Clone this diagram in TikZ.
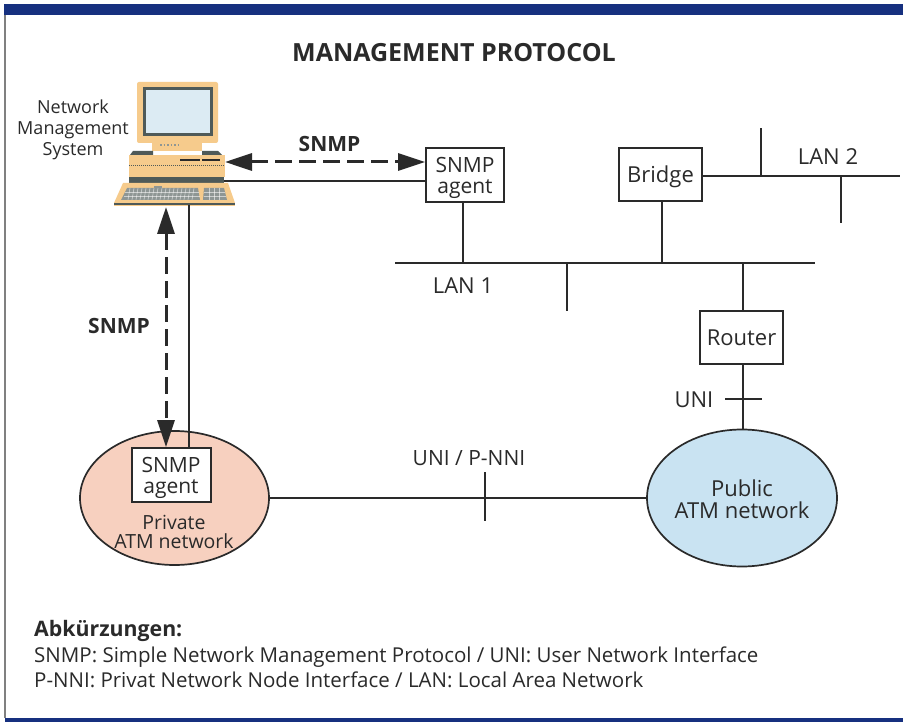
\documentclass[tikz,border=0pt]{standalone}
\usepackage{fontspec}
\setmainfont{Open Sans}
\usetikzlibrary{arrows.meta,shapes.geometric}
\definecolor{barblue}{HTML}{16307F}
\definecolor{txt}{HTML}{2A2A2A}
\definecolor{pcbody}{HTML}{F6CB8C}
\definecolor{pcdark}{HTML}{4F5A58}
\definecolor{pckey}{HTML}{8E9694}
\definecolor{scr}{HTML}{DCEBF3}
\definecolor{priv}{HTML}{F7D0BF}
\definecolor{publ}{HTML}{C9E3F2}
\tikzset{
  x=1pt,y=-1pt,
  lbl/.style={font=\fontsize{22}{22}\selectfont,text=txt,align=center,inner sep=0pt},
  boldlbl/.style={lbl,font=\fontsize{21}{23}\selectfont\bfseries},
  smallbox/.style={draw=txt,line width=1.7pt,fill=white,inner sep=0pt,align=center,font=\fontsize{22}{22}\selectfont,text=txt},
  boxtext/.style={lbl,font=\fontsize{21}{21}\selectfont},
  wire/.style={draw=txt,line width=1.6pt},
  dasharrow/.style={draw=txt,line width=3pt,dash pattern=on 17pt off 7pt,
     {Triangle[length=27pt,width=17pt]}-{Triangle[length=27pt,width=17pt]}},
  cloud/.style={ellipse,draw=txt,line width=1.7pt,inner sep=0pt},
}
\begin{document}
\begin{tikzpicture}
\useasboundingbox (0,0) rectangle (903,722);
\fill[white] (0,0) rectangle (903,722);
\draw[gray,line width=1.3pt] (5,15) -- (5,718);
\fill[barblue] (4,4) rectangle (903,15);
\fill[barblue] (5,718) rectangle (903,722);

\node[lbl,font=\fontsize{25}{30}\selectfont\bfseries] (title) at (454,53) {MANAGEMENT PROTOCOL};

% computer
\fill[pcbody,rounded corners=2pt] (137,82) rectangle (218,143);
\fill[pcdark] (143,87) rectangle (213,136);
\fill[scr] (146,90) rectangle (210,133);
\fill[pcbody] (152,142) rectangle (202,151);
\fill[pcdark] (130,155) -- (133,151) -- (153,151) -- (153,155) -- cycle;
\fill[pcdark] (202,151) -- (218,151) -- (222,155) -- (202,155) -- cycle;
\draw[pckey,line width=1.5pt,dotted] (160,145) -- (178,145);
\fill[pcbody] (129,155) rectangle (225,177);
\fill[pcdark] (129,177) rectangle (224,183);
\draw[pcdark,line width=1pt,densely dotted] (129,166) -- (225,166);
\draw[txt,line width=1.3pt] (180,160) -- (200,160) (202,160) -- (220,160);
\fill[pcbody] (123,183) -- (228,183) -- (235,203) -- (114,203) -- cycle;
\fill[pcbody] (114,203) rectangle (235,206);
\draw[pcdark,line width=1.1pt] (114,204) -- (235,204);
\fill[pckey] (154,186) rectangle (162,188);
\fill[pckey] (127,188) -- (198,188) -- (200,200) -- (121,200) -- cycle;
\fill[pckey] (204,188) -- (224,188) -- (227,200) -- (203,200) -- cycle;
\draw[white,opacity=.55,line width=.6pt] (125,192) -- (199,192) (124,196) -- (200,196)
   (204,192) -- (225,192) (204,196) -- (226,196);
\foreach \kx in {130,134,...,196} \draw[white,opacity=.55,line width=.6pt] (\kx,188) -- (\kx-2,200);
\foreach \kx in {209,214,219} \draw[white,opacity=.55,line width=.6pt] (\kx,188) -- (\kx,200);
\coordinate (pcright) at (224,181);
\coordinate (pcarrowH) at (225,162);
\coordinate (pcbottomA) at (166,207);
\coordinate (pcbottomL) at (189,205);
\node[lbl,font=\fontsize{18}{21}\selectfont] (nms) at (73,129.5) {Network\\Management\\System};

% ellipses
\node[cloud,fill=priv,minimum width=189pt,minimum height=134pt] (private) at (174.5,498) {};
\node[cloud,fill=publ,minimum width=190pt,minimum height=137pt] (public) at (742,498) {};

% boxes
\node[smallbox,minimum width=78pt,minimum height=54pt] (agent1) at (465,175) {};
\node[boxtext] (agent1t) at (465,178) {SNMP\\agent};
\node[smallbox,minimum width=79pt,minimum height=54pt] (agent2) at (171.5,475) {};
\node[boxtext] (agent2t) at (171,478) {SNMP\\agent};
\node[smallbox,text depth=0pt,minimum width=83pt,minimum height=53pt] (bridge) at (660.5,174.5) {Bridge};
\node[smallbox,minimum width=83pt,minimum height=53pt] (router) at (741.5,337.5) {Router};

% network coordinates
\coordinate (lan1L) at (395,263);
\coordinate (lan1R) at (815,263);
\coordinate (lan1a) at (463,263);
\coordinate (lan1s) at (567,263);
\coordinate (lan1sE) at (567,311);
\coordinate (lan1b) at (662,263);
\coordinate (lan1c) at (743,263);
\coordinate (lan2R) at (900,176);
\coordinate (lan2a) at (761,176);
\coordinate (lan2aE) at (761,128);
\coordinate (lan2b) at (841,176);
\coordinate (lan2bE) at (841,223);
\coordinate (uniL) at (725,399);
\coordinate (uniR) at (762,399);
\coordinate (nniT) at (485,472);
\coordinate (nniB) at (485,521);

\draw[wire] (pcright) -- (agent1.west |- pcright);
\draw[wire] (agent1.south -| lan1a) -- (lan1a);
\draw[wire] (lan1L) -- (lan1R);
\draw[wire] (lan1s) -- (lan1sE);
\draw[wire] (bridge.south -| lan1b) -- (lan1b);
\draw[wire] (lan1c) -- (router.north -| lan1c);
\draw[wire] (bridge.east |- lan2R) -- (lan2R);
\draw[wire] (lan2a) -- (lan2aE);
\draw[wire] (lan2b) -- (lan2bE);
\draw[wire] (router.south -| lan1c) -- (public.north -| lan1c);
\draw[wire] (uniL) -- (uniR);
\draw[wire] (private.east) -- (public.west);
\draw[wire] (nniT) -- (nniB);
\draw[wire] (pcbottomL) -- (agent2.north -| pcbottomL);

\draw[dasharrow] (pcarrowH) -- (agent1.west |- pcarrowH);
\draw[dasharrow] (pcbottomA) -- (agent2.north -| pcbottomA);

% labels
\node[boldlbl] (snmpH) at (329.5,144) {SNMP};
\node[boldlbl] (snmpV) at (119,326) {SNMP};
\node[lbl] (lan2) at (828,157) {LAN 2};
\node[lbl] (lan1) at (463,286) {LAN 1};
\node[lbl] (uni) at (694,400) {UNI};
\node[lbl,font=\fontsize{21}{22}\selectfont] (uninni) at (469,458) {UNI / P-NNI};
\node[lbl,font=\fontsize{19.5}{19.5}\selectfont] (privt) at (174,532) {Private\\ATM network};
\node[lbl] (publt) at (742,499.5) {Public\\ATM network};

\node[lbl,anchor=west,font=\fontsize{21.3}{24}\selectfont\bfseries] (abk) at (34,631) {Abkürzungen:};
\node[lbl,anchor=west,align=left,font=\fontsize{20.5}{25}\selectfont] (leg) at (34,667) {SNMP: Simple Network Management Protocol / UNI: User Network Interface\\P-NNI: Privat Network Node Interface / LAN: Local Area Network};
\end{tikzpicture}
\end{document}
